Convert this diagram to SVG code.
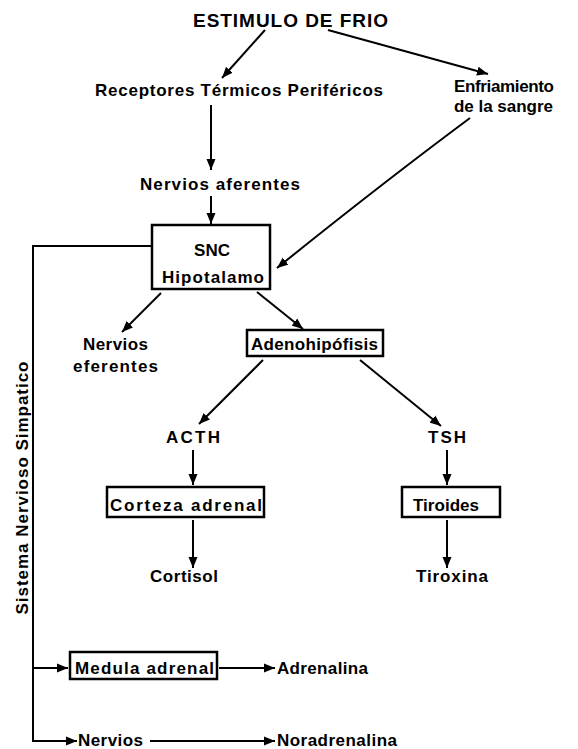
<svg xmlns="http://www.w3.org/2000/svg" width="578" height="749" viewBox="0 0 578 749">
<defs>
<marker id="ah" markerUnits="userSpaceOnUse" markerWidth="12" markerHeight="10" refX="11" refY="5" orient="auto">
<path d="M0,0.5 L11,5 L0,9.5 Z" fill="#000"/>
</marker>
<style>
text{font-family:"Liberation Sans",Arial,sans-serif;font-weight:bold;font-size:17px;fill:#000}
.t{font-size:19px}
.c{text-anchor:middle}
.box{fill:none;stroke:#000;stroke-width:2.5}
.ar{fill:none;stroke:#000;stroke-width:2;marker-end:url(#ah)}
</style>
</defs>
<rect width="578" height="749" fill="#fff"/>
<g id="connectors">
<path class="ar" d="M265,30 L222,78"/>
<path class="ar" d="M328,30 L488,74"/>
<path class="ar" d="M211,105 L211,170"/>
<path class="ar" d="M211,196 L211,224"/>
<path class="ar" d="M470,118 Q380,185 277,268"/>
<path class="ar" d="M161,293 L122,332"/>
<path class="ar" d="M257,292 L303,329"/>
<path class="ar" d="M263,360 L199,424"/>
<path class="ar" d="M360,360 L441,426"/>
<path class="ar" d="M193,450 L193,485"/>
<path class="ar" d="M193,520 L193,568"/>
<path class="ar" d="M447,450 L447,485"/>
<path class="ar" d="M447,520 L447,568"/>
<path class="ar" d="M152,246 L33,246 L33,741 L77,741"/>
<path class="ar" d="M33,668 L68,668"/>
<path class="ar" d="M219,668 L275,668"/>
<path class="ar" d="M150,741 L275,741"/>
</g>
<g id="estimulo"><text class="t" x="193" y="27" textLength="195" lengthAdjust="spacing">ESTIMULO DE FRIO</text></g>
<g id="receptores"><text x="95" y="96" textLength="288" lengthAdjust="spacing">Receptores Térmicos Periféricos</text></g>
<g id="enfriamiento"><text x="454" y="92" textLength="100" lengthAdjust="spacing">Enfriamiento</text><text x="454" y="112" textLength="99" lengthAdjust="spacing">de la sangre</text></g>
<g id="aferentes"><text x="140" y="190" textLength="160" lengthAdjust="spacing">Nervios aferentes</text></g>
<g id="snc"><rect class="box" x="152" y="225" width="118" height="64"/><text class="c" x="212" y="256">SNC</text><text x="162" y="283" textLength="102" lengthAdjust="spacing">Hipotalamo</text></g>
<g id="eferentes"><text x="83" y="350" textLength="65" lengthAdjust="spacing">Nervios</text><text x="73" y="372" textLength="85" lengthAdjust="spacing">eferentes</text></g>
<g id="adeno"><rect class="box" x="247" y="330" width="136" height="26"/><text x="251" y="350" textLength="127" lengthAdjust="spacing">Adenohipófisis</text></g>
<g id="acth"><text x="166" y="443" textLength="54" lengthAdjust="spacing">ACTH</text></g>
<g id="tsh"><text x="428" y="443" textLength="38" lengthAdjust="spacing">TSH</text></g>
<g id="corteza"><rect class="box" x="107" y="487" width="157" height="30"/><text x="110" y="511" textLength="152" lengthAdjust="spacing">Corteza adrenal</text></g>
<g id="tiroides"><rect class="box" x="402" y="487" width="98" height="30"/><text x="413" y="511" textLength="66" lengthAdjust="spacing">Tiroides</text></g>
<g id="cortisol"><text x="150" y="582" textLength="68" lengthAdjust="spacing">Cortisol</text></g>
<g id="tiroxina"><text x="416" y="582" textLength="72" lengthAdjust="spacing">Tiroxina</text></g>
<g id="sns"><text class="c" transform="translate(28,488) rotate(-90)" textLength="253" lengthAdjust="spacing">Sistema Nervioso Simpatico</text></g>
<g id="medula"><rect class="box" x="70" y="652" width="147" height="27"/><text x="75" y="674" textLength="139" lengthAdjust="spacing">Medula adrenal</text></g>
<g id="adrenalina"><text x="277" y="674" textLength="91" lengthAdjust="spacing">Adrenalina</text></g>
<g id="nervios2"><text x="78" y="746" textLength="65" lengthAdjust="spacing">Nervios</text></g>
<g id="noradrenalina"><text x="277" y="746" textLength="120" lengthAdjust="spacing">Noradrenalina</text></g>
</svg>
